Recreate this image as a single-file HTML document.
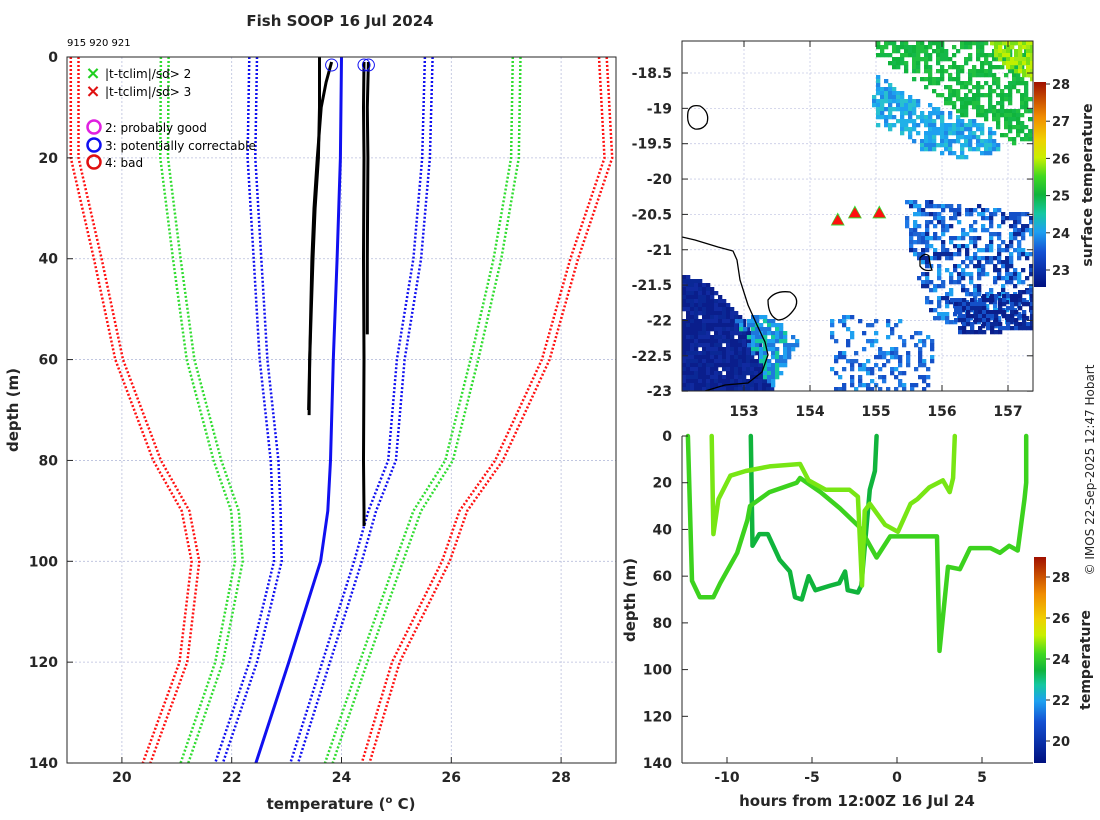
<!DOCTYPE html>
<html><head><meta charset="utf-8">
<style>
body{margin:0;background:#fff;}
svg{display:block;font-family:"DejaVu Sans","Liberation Sans",sans-serif;}
.tk{font-size:14px;font-weight:bold;fill:#262626;}
.lab{font-size:15px;font-weight:bold;fill:#262626;}
</style></head>
<body>
<svg id="fig" width="1100" height="820" viewBox="0 0 1100 820" xmlns="http://www.w3.org/2000/svg">
<defs>
<linearGradient id="cbMap" x1="0" y1="1" x2="0" y2="0">
<stop offset="0" stop-color="#00107f"/><stop offset="0.17" stop-color="#1450d2"/><stop offset="0.27" stop-color="#1ea0f0"/><stop offset="0.36" stop-color="#14c8a0"/><stop offset="0.45" stop-color="#10b43c"/><stop offset="0.54" stop-color="#40d820"/><stop offset="0.63" stop-color="#c8f000"/><stop offset="0.72" stop-color="#f0d000"/><stop offset="0.83" stop-color="#f08c00"/><stop offset="1" stop-color="#a01000"/>
</linearGradient>
<linearGradient id="cbT" x1="0" y1="1" x2="0" y2="0">
<stop offset="0" stop-color="#00107f"/><stop offset="0.2" stop-color="#1450d2"/><stop offset="0.3" stop-color="#1ea0f0"/><stop offset="0.38" stop-color="#14c8a0"/><stop offset="0.45" stop-color="#10b43c"/><stop offset="0.53" stop-color="#40d820"/><stop offset="0.62" stop-color="#c8f000"/><stop offset="0.7" stop-color="#f0d000"/><stop offset="0.82" stop-color="#f08c00"/><stop offset="1" stop-color="#a01000"/>
</linearGradient>
<clipPath id="clipMap"><rect x="682" y="41" width="351" height="350"/></clipPath>
<clipPath id="clipL"><rect x="67" y="57" width="549" height="706"/></clipPath>
</defs>

<text x="340" y="26" text-anchor="middle" class="lab" font-size="16">Fish SOOP 16 Jul 2024</text>
<text x="67" y="46" font-size="10" fill="#000">915 920 921</text>

<g id="left"></g>
<g id="map"></g>
<g id="ts"></g>

<text transform="translate(18,410) rotate(-90)" text-anchor="middle" class="lab">depth (m)</text>
<text x="341" y="809" text-anchor="middle" class="lab">temperature (<tspan font-size="10" dy="-6">o</tspan><tspan dy="6"> C)</tspan></text>
<text transform="translate(635,600) rotate(-90)" text-anchor="middle" class="lab">depth (m)</text>
<text x="857" y="806" text-anchor="middle" class="lab">hours from 12:00Z 16 Jul 24</text>
<text transform="translate(1092,185) rotate(-90)" text-anchor="middle" font-size="14" font-weight="bold" fill="#262626">surface temperature</text>
<text transform="translate(1090,660) rotate(-90)" text-anchor="middle" font-size="14" font-weight="bold" fill="#262626">temperature</text>
<text transform="translate(1094,470) rotate(-90)" text-anchor="middle" font-size="12" fill="#262626">© IMOS 22-Sep-2025 12:47 Hobart</text>
</svg>
<script>
// ===== Left profile panel data =====
const depths = [0,20,40,60,80,90,100,120,140];
const meanT = [24.0,23.98,23.92,23.85,23.8,23.75,23.62,23.04,22.44];
const blueLo = [22.39,22.36,22.47,22.58,22.78,22.82,22.84,22.39,21.77];
const blueHi = [25.59,25.54,25.38,25.08,24.92,24.56,24.3,23.72,23.14];
const greenLo = [20.78,20.77,21.0,21.25,21.74,22.06,22.13,21.77,21.14];
const greenHi = [27.19,27.16,26.84,26.42,25.96,25.38,25.05,24.4,23.77];
const redLo = [19.14,19.14,19.56,19.95,20.64,21.16,21.34,21.12,20.45];
const redHi = [28.76,28.86,28.24,27.72,26.87,26.22,25.9,24.99,24.44];
const p1Depth = [1,5,10,20,30,40,50,60,71];
const p1Temp = [23.82,23.72,23.63,23.56,23.5,23.46,23.44,23.42,23.41];
const p1bDepth = [0,10,20,30,40,50,60,70];
const p1bTemp = [23.6,23.6,23.58,23.52,23.48,23.45,23.42,23.4];
const p2Depth = [1,10,20,40,60,80,90,93];
const p2Temp = [24.41,24.4,24.41,24.4,24.41,24.4,24.41,24.41];
const p3Depth = [1,10,20,40,55];
const p3Temp = [24.49,24.47,24.48,24.47,24.47];
const xTicks = [20,22,24,26,28];
const yTicks = [0,20,40,60,80,100,120,140];

// ===== Time-depth panel data =====
const s1Hours = [-12.3,-12.06,-11.6,-10.8,-10.4,-9.4,-8.8,-8.65,-7.5,-5.9,-5.7,-4.5,-3.35,-2.2,-1.2,-0.4,0.6,2.35,2.5,3.0,3.7,4.3,5.5,6.05,6.6,7.1,7.5,7.6,7.6];
const s1Depth = [0,62,69,69,63,50,36,30,24,20,18,24,31,39,52,43,43,43,92,56,57,48,48,50,47,49,27,20,0];
const s2Hours = [-10.9,-10.8,-10.5,-9.8,-8.9,-7.5,-5.7,-5.2,-4.2,-2.8,-2.3,-2.06,-1.9,-1.6,-0.7,0.05,0.8,1.2,1.9,2.7,3.1,3.3,3.4];
const s2Depth = [0,42,27,17,15,13,12,19,23,23,26,64,32,29,38,41,29,27,22,19,24,18,0];
const s3Hours = [-8.6,-8.5,-8.1,-7.6,-6.9,-6.3,-6.0,-5.6,-5.2,-4.8,-3.9,-3.4,-3.05,-2.9,-2.3,-2.1,-1.6,-1.3,-1.2];
const s3Depth = [0,47,42,42,53,58,69,70,60,66,64,63,58,66,67,64,23,15,0];
const s1Temp = 24.4, s2Temp = 25.0, s3Temp = 23.6;
const tsXTicks = [-10,-5,0,5];
const tsYTicks = [0,20,40,60,80,100,120,140];
const tsCbTicks = [20,22,24,26,28];

// ===== Map data =====
const lonTicks = [153,154,155,156,157];
const latTicks = [-18.5,-19,-19.5,-20,-20.5,-21,-21.5,-22,-22.5,-23];
const dropLon = [154.42,154.68,155.05];
const dropLat = [-20.6,-20.5,-20.5];
const mapCbTicks = [23,24,25,26,27,28];

const NS='http://www.w3.org/2000/svg';
function mk(tag,attrs,parent){const e=document.createElementNS(NS,tag);for(const k in attrs)e.setAttribute(k,attrs[k]);parent.appendChild(e);return e;}

// ---------- Left panel ----------
const L=document.getElementById('left');
const lx=t=>67+(t-19)*54.9, ly=d=>57+d*5.043;
xTicks.forEach(t=>{const g=mk('line',{x1:lx(t),x2:lx(t),y1:57,y2:763,stroke:'#b8bedc','stroke-width':0.8,'stroke-dasharray':'2,2'},L);

});
yTicks.forEach(d=>{const g=mk('line',{x1:67,x2:616,y1:ly(d),y2:ly(d),stroke:'#b8bedc','stroke-width':0.8,'stroke-dasharray':'2,2'},L);

});
const Lg=mk('g',{'clip-path':'url(#clipL)'},L);
function pl(ts,ds,fx,fy){return ts.map((t,i)=>fx(t).toFixed(1)+','+fy(ds[i]).toFixed(1)).join(' ');}
const envs=[[redLo,'#ff1010','red-envelope-low'],[redHi,'#ff1010','red-envelope-high'],[greenLo,'#30dc30','green-envelope-low'],[greenHi,'#30dc30','green-envelope-high'],[blueLo,'#1010f0','blue-envelope-low'],[blueHi,'#1010f0','blue-envelope-high']];
envs.forEach(([arr,c,n])=>{[-0.07,0.07].forEach(off=>{
 const p=mk('polyline',{points:pl(arr.map(v=>v+off),depths,lx,ly),fill:'none',stroke:c,'stroke-width':2.5,'stroke-dasharray':'2,2'},Lg);
 
 });});
const m=mk('polyline',{points:pl(meanT,depths,lx,ly),fill:'none',stroke:'#1010f0','stroke-width':3},Lg);


[[p1Temp,p1Depth,'profile-915'],[p1bTemp,p1bDepth,'profile-915b'],[p2Temp,p2Depth,'profile-920'],[p3Temp,p3Depth,'profile-921']].forEach(([t,d,n])=>{
 const p=mk('polyline',{points:pl(t,d,lx,ly),fill:'none',stroke:'#000','stroke-width':3},Lg);
 
 });
[[p1Temp[0],p1Depth[0]],[p2Temp[0],p2Depth[0]],[p3Temp[0],p3Depth[0]]].forEach(([t,d])=>{
 const c=mk('circle',{cx:lx(t),cy:ly(d)+3,r:6,fill:'none',stroke:'#1010f0','stroke-width':1},L);
 
 });
mk('rect',{x:67,y:57,width:549,height:706,fill:'none',stroke:'#262626','stroke-width':1},L);
xTicks.forEach(t=>{mk('line',{x1:lx(t),x2:lx(t),y1:763,y2:757,stroke:'#262626'},L);
 const tx=mk('text',{x:lx(t),y:782,'text-anchor':'middle',class:'tk'},L);tx.textContent=t;
 
 });
yTicks.forEach(d=>{mk('line',{x1:67,x2:73,y1:ly(d),y2:ly(d),stroke:'#262626'},L);
 const tx=mk('text',{x:58,y:ly(d)+5,'text-anchor':'end',class:'tk'},L);tx.textContent=d;
 
 });
// legend
const leg=mk('g',{},L);


[['×','#20d020','|t-tclim|/sd> 2',73],['×','#e01010','|t-tclim|/sd> 3',91]].forEach(([s,c,t,y])=>{
 const a=mk('text',{x:93,y:y+6,'text-anchor':'middle','font-size':18,'font-weight':'bold',fill:c},leg);a.textContent=s;
 const b=mk('text',{x:105,y:y+5,'font-size':12,fill:'#000'},leg);b.textContent=t;
 
 });
[['#e020e0','2: probably good',127],['#1010f0','3: potentially correctable',145],['#e01010','4: bad',162]].forEach(([c,t,y])=>{
 mk('circle',{cx:94,cy:y,r:6.5,fill:'none',stroke:c,'stroke-width':2.5},leg);
 const b=mk('text',{x:105,y:y+5,'font-size':12,fill:'#000'},leg);b.textContent=t;
 
 });

// ---------- Map ----------
const M=document.getElementById('map');
const mx=lo=>744+(lo-153)*66, my=la=>73+(-18.5-la)*70.7;
lonTicks.forEach(v=>mk('line',{x1:mx(v),x2:mx(v),y1:41,y2:391,stroke:'#c8cce6','stroke-width':0.8,'stroke-dasharray':'2,2'},M));
latTicks.forEach(v=>mk('line',{x1:682,x2:1033,y1:my(v),y2:my(v),stroke:'#c8cce6','stroke-width':0.8,'stroke-dasharray':'2,2'},M));
const MG=mk('g',{'clip-path':'url(#clipMap)'},M);
let seed=7;function rnd(){seed=(seed*16807)%2147483647;return seed/2147483647;}
function inPoly(x,y,P){let c=false;for(let i=0,j=P.length-1;i<P.length;j=i++){const [xi,yi]=P[i],[xj,yj]=P[j];if(((yi>y)!=(yj>y))&&(x<(xj-xi)*(y-yi)/(yj-yi)+xi))c=!c;}return c;}
function speckle(P,cols,p){const xs=P.map(q=>q[0]),ys=P.map(q=>q[1]);
 for(let x=Math.min(...xs);x<Math.max(...xs);x+=4)for(let y=Math.min(...ys);y<Math.max(...ys);y+=4){
  if(!inPoly(x+2,y+2,P))continue; if(rnd()>p)continue;
  mk('rect',{x:x,y:y,width:4.3,height:4.3,fill:cols[Math.floor(rnd()*cols.length)]},MG);}}
speckle([[876,41],[1033,41],[1033,150],[1005,140],[990,120],[960,115],[930,90],[900,70],[878,62]],['#10b43c','#14b848','#20c040'],0.65);
speckle([[990,41],[1033,41],[1033,80],[1010,70],[995,55]],['#a0e814','#c0f000','#78e014'],0.9);
speckle([[878,75],[905,95],[945,110],[995,128],[1000,152],[960,158],[920,150],[905,135],[878,125],[872,100]],['#1ea0f0','#20b0e8','#1e88e6','#28c0d0'],0.75);
speckle([[682,275],[705,282],[725,300],[745,322],[762,345],[772,370],[775,391],[682,391]],['#0a1e8c','#0a2896','#102aa0','#0a1e8c'],0.97);
speckle([[735,318],[770,315],[800,340],[790,360],[770,391],[755,360]],['#1ea0f0','#14c8a0','#1e78dc'],0.75);
speckle([[905,200],[975,205],[1033,215],[1033,330],[980,330],[930,320],[918,280],[905,230]],['#1e64d2','#1e78e6','#1450c8','#1ea0f0','#0a2896'],0.5);
speckle([[830,315],[900,320],[935,340],[930,391],[830,391]],['#1e64d2','#1e78e6','#1450c8','#1ea0f0'],0.35);
speckle([[950,300],[1033,290],[1033,330],[960,335]],['#0a1e8c','#1450c8','#0a2896'],0.75);
const coast=mk('polyline',{points:'682,237 695,240 718,247 733,251 737,260 740,280 748,305 757,325 765,342 768,355 762,372 748,383 725,385 705,391',fill:'none',stroke:'#000','stroke-width':1.3},MG);


mk('path',{d:'M688,112 Q690,104 700,106 Q710,112 707,123 Q703,130 695,129 Q686,126 688,112Z',fill:'none',stroke:'#000','stroke-width':1.3},MG);
mk('path',{d:'M768,300 Q775,290 790,292 Q800,298 795,308 Q787,320 778,320 Q768,316 768,300Z',fill:'none',stroke:'#000','stroke-width':1.3},MG);
mk('path',{d:'M920,258 Q925,252 929,256 Q930,266 932,270 Q924,272 920,266Z',fill:'none',stroke:'#000','stroke-width':1.3},MG);
dropLon.forEach((lo,i)=>{const x=mx(lo),y=my(dropLat[i]);
 mk('polygon',{points:`${x},${y-9} ${x+7},${y+4} ${x-7},${y+4}`,fill:'#30e030'},M);
 const t=mk('polygon',{points:`${x},${y-7} ${x+6},${y+3} ${x-6},${y+3}`,fill:'#ff1010'},M);
 
 });
mk('rect',{x:682,y:41,width:351,height:350,fill:'none',stroke:'#262626'},M);
lonTicks.forEach(v=>{mk('line',{x1:mx(v),x2:mx(v),y1:391,y2:385,stroke:'#262626'},M);mk('line',{x1:mx(v),x2:mx(v),y1:41,y2:47,stroke:'#262626'},M);
 const t=mk('text',{x:mx(v),y:416,'text-anchor':'middle',class:'tk'},M);t.textContent=v;
 
 });
latTicks.forEach(v=>{mk('line',{x1:682,x2:688,y1:my(v),y2:my(v),stroke:'#262626'},M);mk('line',{x1:1033,x2:1027,y1:my(v),y2:my(v),stroke:'#262626'},M);
 const t=mk('text',{x:672,y:my(v)+5,'text-anchor':'end',class:'tk'},M);t.textContent=v;
 
 });
const cb=mk('rect',{x:1034,y:82,width:12,height:205,fill:'url(#cbMap)'},M);


const cy1=c=>84+(28-c)*37.2;
mapCbTicks.forEach(c=>{mk('line',{x1:1046,x2:1050,y1:cy1(c),y2:cy1(c),stroke:'#262626'},M);
 const t=mk('text',{x:1052,y:cy1(c)+5,'font-size':13,'font-weight':'bold',fill:'#262626'},M);t.textContent=c;});

// ---------- Time-depth panel ----------
const T=document.getElementById('ts');
const tx=h=>897+h*17, ty=d=>436+d*2.336;
function tcol(t){return t>24.8?'#78e614':(t>24?'#3cd21e':'#10b43c');}
[[s3Hours,s3Depth,s3Temp,'series-drop-915'],[s1Hours,s1Depth,s1Temp,'series-drop-920'],[s2Hours,s2Depth,s2Temp,'series-drop-921']].forEach(([h,d,t,n])=>{
 const p=mk('polyline',{points:pl(h,d,tx,ty),fill:'none',stroke:tcol(t),'stroke-width':4.5,'stroke-linejoin':'round','stroke-linecap':'round'},T);
 
 });
mk('line',{x1:682,x2:682,y1:436,y2:763,stroke:'#262626'},T);
mk('line',{x1:682,x2:1033,y1:763,y2:763,stroke:'#262626'},T);
tsXTicks.forEach(v=>{mk('line',{x1:tx(v),x2:tx(v),y1:763,y2:757,stroke:'#262626'},T);
 const t=mk('text',{x:tx(v),y:782,'text-anchor':'middle',class:'tk'},T);t.textContent=v;
 
 });
tsYTicks.forEach(v=>{mk('line',{x1:682,x2:688,y1:ty(v),y2:ty(v),stroke:'#262626'},T);
 const t=mk('text',{x:672,y:ty(v)+5,'text-anchor':'end',class:'tk'},T);t.textContent=v;
 
 });
const cb2=mk('rect',{x:1034,y:557,width:12,height:206,fill:'url(#cbT)'},T);


const cy2=c=>741-(c-20)*20.5;
tsCbTicks.forEach(c=>{mk('line',{x1:1046,x2:1050,y1:cy2(c),y2:cy2(c),stroke:'#262626'},T);
 const t=mk('text',{x:1052,y:cy2(c)+5,'font-size':13,'font-weight':'bold',fill:'#262626'},T);t.textContent=c;});
</script>
</body></html>
